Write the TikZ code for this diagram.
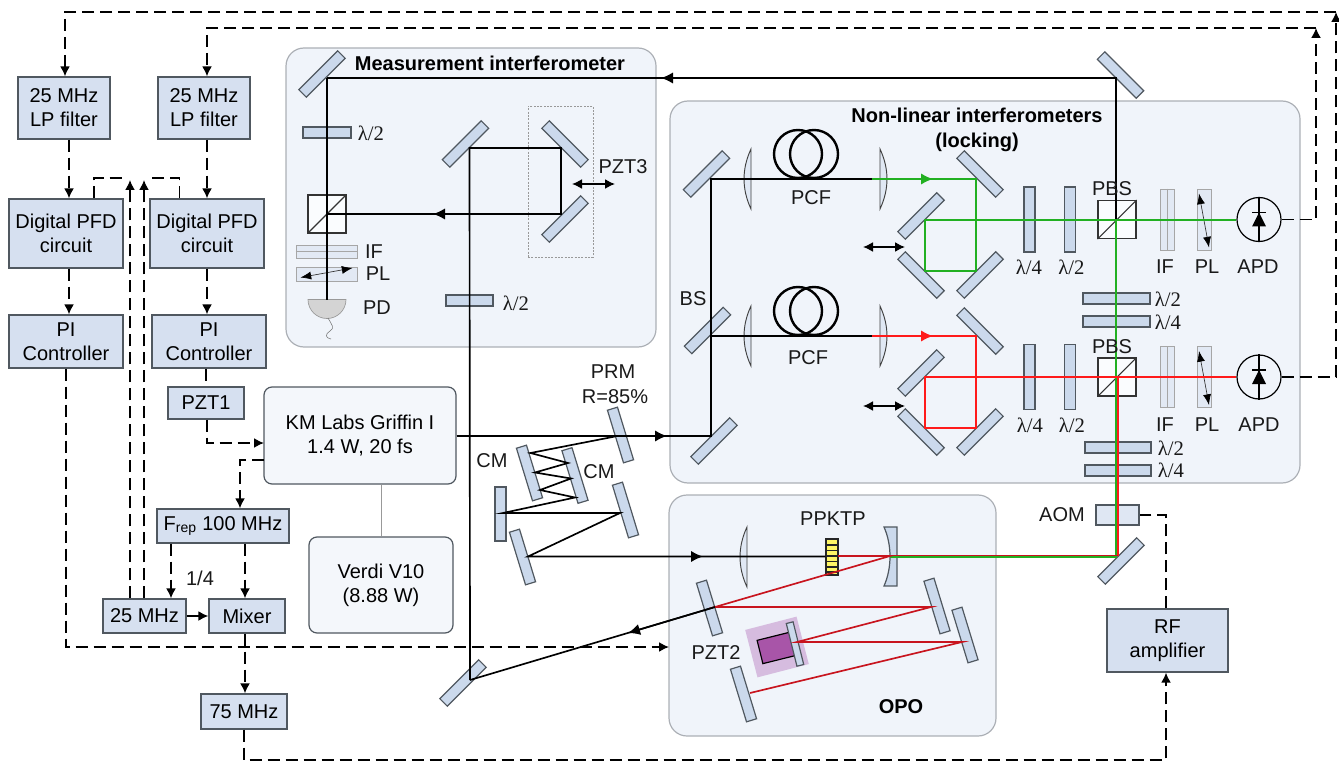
\documentclass[tikz,border=0pt]{standalone}
\usepackage{fontspec}
\setmainfont{Liberation Sans}
\newfontfamily\lamfont{Liberation Serif}
\usetikzlibrary{arrows.meta,calc}
\definecolor{panelfill}{HTML}{F0F4FA}
\definecolor{panelline}{HTML}{ACB0B6}
\definecolor{boxfill}{HTML}{D6E0F0}
\definecolor{boxline}{HTML}{505860}
\definecolor{mirfill}{HTML}{CBD9EC}
\definecolor{grn}{HTML}{22B022}
\definecolor{rd}{HTML}{FF1A1A}
\definecolor{drd}{HTML}{C8141E}
\definecolor{pztlight}{HTML}{D6BCDF}
\definecolor{pztdark}{HTML}{A855A8}
\tikzset{
  sz/.style 2 args={minimum width=#1*0.75pt,minimum height=#2*0.75pt},
  lab/.style={font=\fontsize{15}{18}\selectfont,inner sep=0pt,text=black!90},
  blab/.style={font=\fontsize{15}{18.6}\bfseries\selectfont,inner sep=0pt,align=center},
  lamlab/.style={font=\fontsize{15.5}{18}\lamfont\selectfont,inner sep=0pt,text=black!90},
  panel/.style={draw=panelline,fill=panelfill,line width=0.9pt,rounded corners=13.5pt,inner sep=0pt},
  srcbox/.style={draw=boxline,fill=panelfill!70!white,line width=0.9pt,rounded corners=6pt,inner sep=0pt,align=center,font=\fontsize{15}{18}\selectfont},
  bx/.style={draw=boxline,fill=boxfill,line width=1pt,inner sep=0pt,align=center,font=\fontsize{15}{18}\selectfont},
  mir/.style={draw=boxline,fill=mirfill,line width=0.9pt,inner sep=0pt,sz={55}{10.5}},
  mira/.style={mir,rotate=45},
  mirb/.style={mir,rotate=-45},
  mirt/.style={mir,rotate=-73},
  plate/.style={draw=boxline,fill=mirfill,line width=0.9pt,inner sep=0pt},
  paleplate/.style={draw=black!35,fill=boxfill!55!panelfill,line width=0.7pt,inner sep=0pt},
  cube/.style={draw=black!80,fill=white!70!panelfill,line width=0.9pt,inner sep=0pt,sz={38}{38}},
  lensst/.style={draw=black!75,fill=boxfill!60!panelfill,line width=0.7pt},
  beam/.style={line width=1.25pt,black},
  gbeam/.style={line width=1.25pt,grn},
  rbeam/.style={line width=1.25pt,rd},
  dbeam/.style={line width=1.25pt,drd},
  fiber/.style={line width=1.8pt,black},
  sig/.style={line width=1.2pt,black,dash pattern=on 9pt off 4.5pt},
  sigtip/.style={sig,-{Latex[length=7.5pt,width=7.5pt]}},
  btip/.style={line width=1.2pt,-{Latex[length=9pt,width=8.5pt]}},
  dbl/.style={line width=1.2pt,black,{Latex[length=7.5pt,width=7.5pt]}-{Latex[length=7.5pt,width=7.5pt]}},
  thinarrow/.style={line width=0.5pt,black!80,{Latex[length=8pt,width=6pt,black]}-{Latex[length=8pt,width=6pt,black]}}
}
\newcommand\lensleft[2]{\draw[lensst] (#1,#2) .. controls ({#1-9.3},{#2+20}) and ({#1-9.3},{#2+40}) .. (#1,{#2+60}) -- cycle;}
\newcommand\lensright[2]{\draw[lensst] (#1,#2) .. controls ({#1+9.3},{#2+20}) and ({#1+9.3},{#2+40}) .. (#1,{#2+60}) -- cycle;}
\newcommand\fiberloop[2]{%
  \draw[fiber] (#1,#2) circle[radius=18pt];
  \draw[fiber] ({#1+16},#2) circle[radius=18pt];}
\newcommand\diode[2]{%
  \fill[black] (#1,{#2-7}) -- ({#1+7},{#2+7}) -- ({#1-7},{#2+7}) -- cycle;
  \draw[line width=1pt] ({#1-7},{#2-7}) -- ({#1+7},{#2-7});}
\begin{document}
\begin{tikzpicture}[x=0.75pt,y=-0.75pt]
\useasboundingbox (0,0) rectangle (1339,763);
% ---- panels
\node[panel,sz={370}{299}] (meas) at (471,197.5) {};
\node[panel,sz={630}{382}] (nl) at (985,292) {};
\node[panel,sz={327}{241}] (opo) at (832.5,615.5) {};
% ---- titles
\node[blab] (tmeas) at (490,63) {Measurement interferometer};
\node[blab] (tnl) at (977,130) {Non-linear interferometers\\(locking)};
\node[blab] (topo) at (901,707) {OPO};
% ---- control boxes
\node[bx,sz={92}{62}] (lpA) at (64,108) {25 MHz\\LP filter};
\node[bx,sz={92}{62}] (lpB) at (204,108) {25 MHz\\LP filter};
\node[bx,sz={114}{69}] (digA) at (66,233.5) {Digital PFD\\circuit};
\node[bx,sz={114}{69}] (digB) at (207,233.5) {Digital PFD\\circuit};
\node[bx,sz={114}{53}] (piA) at (66,341.5) {PI\\Controller};
\node[bx,sz={114}{53}] (piB) at (209,341.5) {PI\\Controller};
\node[bx,sz={76}{32}] (pzt1) at (206,403) {PZT1};
\node[srcbox,sz={192}{97}] (km) at (360,435.5) {KM Labs Griffin I\\1.4 W, 20 fs};
\node[srcbox,sz={144}{96}] (verdi) at (381,585) {Verdi V10\\(8.88 W)};
\node[bx,sz={132}{34}] (frep) at (223,526) {F\textsubscript{rep} 100 MHz};
\node[bx,sz={83}{34}] (mhz) at (144.5,616) {25 MHz};
\node[bx,sz={76}{34}] (mixer) at (247,616) {Mixer};
\node[bx,sz={86}{35}] (sf) at (244,711.5) {75 MHz};
\node[bx,sz={121}{63}] (rf) at (1167.5,640.5) {RF\\amplifier};
% ---- mirrors
\node[mira] (m1) at (322,74) {};
\node[mira] (m2) at (465.5,144) {};
\node[mirb] (m3) at (565,144) {};
\node[mira] (m4) at (565,219) {};
\node[mirb] (m5) at (1120.5,75) {};
\node[mira] (g0) at (706.5,174) {};
\node[mirb] (g1) at (980,174) {};
\node[mira] (g2) at (921,216) {};
\node[mirb] (g3) at (921,275) {};
\node[mira] (g4) at (980,275) {};
\node[mira] (bs) at (707.5,330.5) {};
\node[mirb] (r1) at (980,331) {};
\node[mira] (r2) at (921,373) {};
\node[mirb] (r3) at (921,432) {};
\node[mira] (r4) at (980,432) {};
\node[mira] (m6) at (714,441) {};
\node[mira] (m7) at (1121,561) {};
\node[mira] (m8) at (463,683) {};
\node[mirt] (prm) at (620.5,435) {};
\node[mirt] (cm1) at (529.5,473) {};
\node[mirt] (cm2) at (575,475.5) {};
\node[plate,sz={11}{54}] (m9) at (500.5,514) {};
\node[mirt] (m10) at (625.5,510) {};
\node[mirt] (m11) at (522.5,557) {};
\node[mirt] (o1) at (709.5,608) {};
\node[mirt] (o2) at (937,606) {};
\node[mirt] (o3) at (965,635) {};
\node[mirt] (o4) at (743.5,694) {};
% ---- PZT2 assembly
\node[fill=pztlight,minimum width=39.75pt,minimum height=36.75pt,rotate=14.5,inner sep=0pt] (pztback) at (777,647) {};
\node[draw=black,fill=pztdark,line width=0.9pt,sz={33}{24},rotate=14,inner sep=0pt] (pztblock) at (776,648) {};
\node[mir,sz={44}{7},rotate=-76] (pztmir) at (795,644) {};
% ---- curved mirror and crystal
\draw[plate] (884,527) .. controls (892,545) and (892,568) .. (884,586) -- (897,586) -- (897,527) -- cycle;
\node[draw=black!85,fill=yellow!60!white,line width=0.9pt,sz={12}{36},inner sep=0pt] (ppktp) at (832,557) {};
\foreach \yy in {545,550.5,556,561.5,567,572} \draw[line width=0.8pt,black!85] (826,\yy) -- (838,\yy);
% ---- lenses
\lensleft{751}{149}
\lensleft{751}{306}
\lensright{880}{149}
\lensright{880}{306}
\lensleft{747}{527}
% ---- plates, cubes, filters
\node[plate,sz={48}{11}] (hw1) at (327,132.5) {};
\node[plate,sz={47}{11}] (hw2) at (469.5,300.5) {};
\node[cube] (cube0) at (327,214) {};
\draw[line width=0.8pt,black!80] (cube0.south west) -- (cube0.north east);
\node[paleplate,sz={61}{13}] (if0) at (326.5,251.5) {};
\draw[line width=0.5pt,black!35] (if0.west) -- (if0.east);
\node[paleplate,sz={61}{14}] (pl0) at (326.5,274) {};
\draw[thinarrow] ([shift={(-26*0.75pt,-3.5*0.75pt)}]pl0.center) -- ([shift={(26*0.75pt,6*0.75pt)}]pl0.center);
\draw[draw=black!40,fill=black!17,line width=0.5pt] (308,299.5) arc[start angle=180,end angle=360,radius=14.25pt] -- cycle;
\draw[line width=0.4pt,black!55] (328,318) .. controls (332,325) and (335,328) .. (330,331) .. controls (325,334) and (325,338) .. (331,339);
\node[draw=black!40,dash pattern=on 1.5pt off 1pt,line width=0.5pt,sz={65}{151},inner sep=0pt] (dotbox) at (560.5,181.5) {};
\foreach \n/\yc in {A/219.5,B/377}{
  \node[plate,sz={11}{65}] (qw\n) at (1029.5,\yc) {};
  \node[plate,sz={11}{65}] (hh\n) at (1070,\yc) {};
  \node[cube] (pbs\n) at (1117,\yc) {};
  \draw[line width=0.8pt,black!80] (pbs\n.south west) -- (pbs\n.north east);
  \node[paleplate,sz={14}{61}] (if\n) at (1167,\yc) {};
  \draw[line width=0.5pt,black!35] (if\n.north) -- (if\n.south);
  \node[paleplate,sz={14}{61}] (pl\n) at (1204,\yc) {};
  \draw[thinarrow] ([shift={(-5*0.75pt,26*0.75pt)}]pl\n.center) -- ([shift={(5*0.75pt,-28*0.75pt)}]pl\n.center);
  \node[draw=black,line width=0.9pt,circle,minimum size=33pt,inner sep=0pt] (apd\n) at (1259,\yc) {};
  \draw[line width=1pt] (apd\n.north) -- (apd\n.south);
}
\diode{1259}{219.5}
\diode{1259}{377}
\node[plate,sz={67}{11}] (p1) at (1116.5,298.5) {};
\node[plate,sz={67}{11}] (p2) at (1116.5,321.5) {};
\node[plate,sz={66}{11}] (p3) at (1118,447.5) {};
\node[plate,sz={66}{11}] (p4) at (1118,470.5) {};
\node[draw=boxline,fill=boxfill!65!panelfill,line width=0.9pt,sz={43}{20},inner sep=0pt] (aom) at (1117.5,515) {};
% ---- beam points
\coordinate (a1) at (327,78);
\coordinate (a2) at (1116,78);
\coordinate (a3) at (1116,219.5);
\coordinate (a4) at (327,299.5);
\coordinate (a5) at (469.5,148);
\coordinate (a6) at (561,148);
\coordinate (a7) at (561,214);
\coordinate (a8) at (327,214);
\coordinate (a9) at (470,680);
\coordinate (a10) at (711,436);
\coordinate (a11) at (711,179);
\coordinate (a12) at (758,179);
\coordinate (a13) at (872,179);
\coordinate (a14) at (976,179);
\coordinate (a15) at (976,271);
\coordinate (a16) at (925,271);
\coordinate (a17) at (925,220);
\coordinate (a18) at (711,336);
\coordinate (a19) at (758,336);
\coordinate (a20) at (872,336);
\coordinate (a21) at (976,336);
\coordinate (a22) at (976,428);
\coordinate (a23) at (925,428);
\coordinate (a24) at (925,377);
\coordinate (z1) at (615,436.5);
\coordinate (z2) at (530.5,453);
\coordinate (z3) at (568,463);
\coordinate (z4) at (535,472.5);
\coordinate (z5) at (571,478.5);
\coordinate (z6) at (540,490);
\coordinate (z7) at (575,497.5);
\coordinate (z8) at (503,513);
\coordinate (z9) at (620,513);
\coordinate (z10) at (528,556.5);
\coordinate (o5) at (890,556);
\coordinate (o6) at (715,607);
\coordinate (o7) at (931,607);
\coordinate (o8) at (797,642);
\coordinate (o9) at (962,642);
\coordinate (o10) at (750,693);
\coordinate (o11) at (838,556);
\coordinate (o12) at (890,557);
\coordinate (o13) at (1116,557);
\coordinate (o14) at (1118,377);
\coordinate (o15) at (1118,555.5);
\coordinate (o16) at (890,555.5);
% ---- beams
\draw[beam] (a1) -- (a2) -- (a3);
\draw[beam] (a1) -- (a4);
\draw[beam] (a9) -- (a5) -- (a6) -- (a7) -- (a8);
\draw[beam] (km.east |- a10) -- (a10) -- (a11) -- (a12);
\draw[beam] (a18) -- (a19);
\draw[fiber] (a12) -- (a13);
\draw[fiber] (a19) -- (a20);
\draw[gbeam] (a13) -- (a14) -- (a15) -- (a16) -- (a17) -- (apdA.west |- a17);
\draw[gbeam] (a3) -- (o13) -- (o12);
\draw[rbeam] (a20) -- (a21) -- (a22) -- (a23) -- (a24) -- (apdB.west |- a24);
\draw[line width=0.9pt,rd] (o14) -- (o15);
\draw[line width=0.9pt,drd] (o15) -- (o16);
\draw[beam] (z1) -- (z2) -- (z3) -- (z4) -- (z5) -- (z6) -- (z7) -- (z8) -- (z9) -- (z10) -- (ppktp.west |- z10);
\draw[beam] (o6) -- (a9);
\draw[dbeam] (o11) -- (o5) -- (o6) -- (o7) -- (o8) -- (o9) -- (o10);
% ---- beam arrowheads
\coordinate (t0) at (661,78);
\coordinate (t1) at (433,214);
\coordinate (t2) at (667,436);
\coordinate (t3) at (703,556.5);
\coordinate (t4) at (628,633);
\coordinate (t5) at (933,179);
\coordinate (t6) at (933,336);
\draw[btip,black] (a2) -- (t0);
\draw[btip,black] (a7) -- (t1);
\draw[btip,black] (km.east |- a10) -- (t2);
\draw[btip,black] (z10) -- (t3);
\draw[btip,black] (o6) -- (t4);
\draw[btip,grn] (a13) -- (t5);
\draw[btip,rd] (a20) -- (t6);
% ---- translation arrows
\coordinate (d1a) at (572,184); \coordinate (d1b) at (615,184);
\coordinate (d2a) at (863,247); \coordinate (d2b) at (905,247);
\coordinate (d3a) at (863,406); \coordinate (d3b) at (905,406);
\draw[dbl] (d1a) -- (d1b);
\draw[dbl] (d2a) -- (d2b);
\draw[dbl] (d3a) -- (d3b);
% ---- fibre coils
\fiberloop{798}{154}
\fiberloop{798}{311}
\draw[line width=0.5pt,black!40] (km.south -| verdi.north) -- (verdi.north);
% ---- signal connectors
\coordinate (xa) at (69,0);
\coordinate (xb) at (207,0);
\coordinate (s1) at (1316,219.5);
\coordinate (s2) at (1316,28);
\coordinate (s3) at (207,28);
\coordinate (s4) at (1336,377);
\coordinate (s5) at (1336,12);
\coordinate (s6) at (65,12);
\draw[sigtip] (apdA.east) -- (s1) -- (s2);
\draw[sigtip] (s2) -- (s3) -- (lpB.north -| s3);
\draw[sigtip] (apdB.east) -- (s4) -- (s5);
\draw[sigtip] (s5) -- (s6) -- (lpA.north -| s6);
\draw[sigtip] (lpA.south -| xa) -- (digA.north -| xa);
\draw[sigtip] (lpB.south -| xb) -- (digB.north -| xb);
\draw[sigtip] (digA.south -| xa) -- (piA.north -| xa);
\draw[sigtip] (digB.south -| xb) -- (piB.north -| xb);
\coordinate (f1) at (94,178);
\coordinate (f2) at (127,178);
\coordinate (f3) at (179.5,178);
\coordinate (f4) at (146,178);
\coordinate (f5) at (130,180);
\coordinate (f6) at (144,180);
\draw[sig] (digA.north -| f1) -- (f1) -- (f2);
\draw[sig] (digB.north -| f3) -- (f3) -- (f4);
\draw[sigtip] (mhz.north -| f5) -- (f5);
\draw[sigtip] (mhz.north -| f6) -- (f6);
\coordinate (q1) at (66,647);
\coordinate (q2) at (669,647);
\draw[sigtip] (piA.south) -- (q1) -- (q2);
\draw[sig] (piB.south -| pzt1.north) -- (pzt1.north);
\coordinate (k1) at (207,443);
\coordinate (k2) at (264,443);
\draw[sigtip] (pzt1.south -| k1) -- (k1) -- (k2);
\coordinate (k3) at (264,460);
\coordinate (k4) at (240,460);
\draw[sigtip] (k3) -- (k4) -- (frep.north -| k4);
\coordinate (k5) at (171,540);
\coordinate (k6) at (245,540);
\draw[sigtip] (frep.south -| k5) -- (mhz.north -| k5);
\draw[sigtip] (frep.south -| k6) -- (mixer.north -| k6);
\draw[line width=1.2pt,-{Latex[length=7.5pt,width=7.5pt]}] (mhz.east) -- (mixer.west);
\draw[sigtip] (mixer.south -| k6) -- (sf.north -| k6);
\coordinate (v1) at (244,760);
\coordinate (v2) at (1166,760);
\draw[sigtip] (sf.south) -- (v1) -- (v2) -- (rf.south -| v2);
\coordinate (v3) at (1166,515);
\draw[sig] (rf.north -| v3) -- (v3) -- (aom.east);
% ---- labels
\node[lamlab] (l1) at (371,133) {λ/2};
\node[lamlab] (l2) at (516,303) {λ/2};
\node[lab] (l3) at (374,252) {IF};
\node[lab] (l4) at (378,274) {PL};
\node[lab] (l5) at (377,308) {PD};
\node[lab] (l6) at (623,167) {PZT3};
\node[lab] (l7) at (811,198) {PCF};
\node[lab] (l8) at (808,358) {PCF};
\node[lab] (l9) at (693,299) {BS};
\node[lab] (l10) at (1112,189) {PBS};
\node[lab] (l11) at (1112,347) {PBS};
\node[lamlab] (l12) at (1029,267) {λ/4};
\node[lamlab] (l13) at (1071.5,267) {λ/2};
\node[lab] (l14) at (1165,267) {IF};
\node[lab] (l15) at (1207,267) {PL};
\node[lab] (l16) at (1258,267) {APD};
\node[lamlab] (l17) at (1168,299) {λ/2};
\node[lamlab] (l18) at (1168,322) {λ/4};
\node[lamlab] (l19) at (1030,425) {λ/4};
\node[lamlab] (l20) at (1072,425) {λ/2};
\node[lab] (l21) at (1165,425) {IF};
\node[lab] (l22) at (1207,425) {PL};
\node[lab] (l23) at (1259,425) {APD};
\node[lamlab] (l24) at (1171,448) {λ/2};
\node[lamlab] (l25) at (1171,470) {λ/4};
\node[lab] (l26) at (1062,515) {AOM};
\node[lab] (l27) at (613,372) {PRM};
\node[lab] (l28) at (615,397) {R=85\%};
\node[lab] (l29) at (492,461) {CM};
\node[lab] (l30) at (599,472) {CM};
\node[lab] (l31) at (833,519) {PPKTP};
\node[lab] (l32) at (716,653) {PZT2};
\node[lab] (l33) at (200,578) {1/4};
\end{tikzpicture}
\end{document}
